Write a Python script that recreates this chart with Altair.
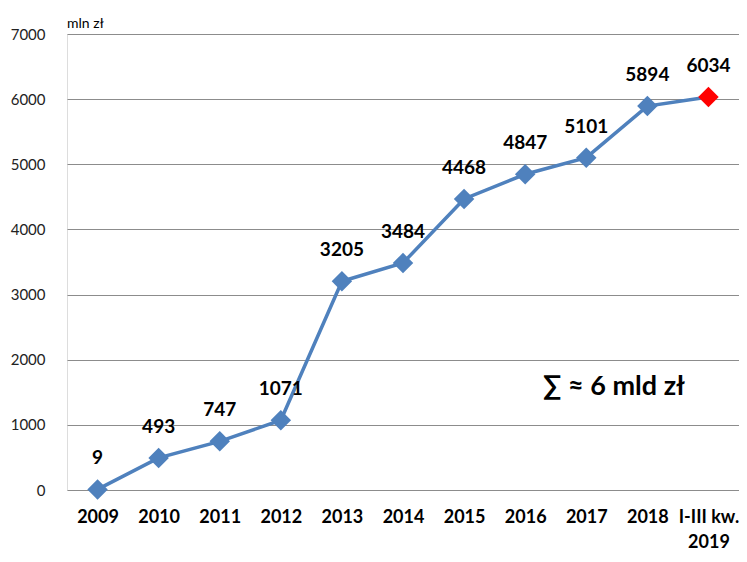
import altair as alt
import pandas as pd

categories = ["2009", "2010", "2011", "2012", "2013", "2014", "2015", "2016", "2017", "2018", "I-III kw. 2019"]
values = [9, 493, 747, 1071, 3205, 3484, 4468, 4847, 5101, 5894, 6034]
highlight = [False] * 10 + [True]

df = pd.DataFrame({"cat": categories, "val": values, "hl": highlight})

FONT = "Lato"
BLUE = "#4F81BD"

x = alt.X("cat:N", sort=categories, title=None,
          scale=alt.Scale(paddingInner=0, paddingOuter=0),
          axis=alt.Axis(labelAngle=0, labelFontSize=18, labelFontWeight="bold",
                        labelColor="#000000", labelFont=FONT, labelPadding=18,
                        ticks=False, domain=False, grid=False, labelLineHeight=25,
                        labelOverlap=False, labelBound=False,
                        labelExpr="datum.value == 'I-III kw. 2019' ? ['I-III kw.', '2019'] : datum.value"))
y = alt.Y("val:Q", title=None,
          scale=alt.Scale(domain=[0, 7000], nice=False),
          axis=alt.Axis(values=[0, 1000, 2000, 3000, 4000, 5000, 6000, 7000], format="d",
                        labelFontSize=15, labelColor="#222222", labelFont=FONT,
                        labelPadding=22, ticks=False, domain=False,
                        gridColor="#8c8c8c", gridWidth=1))

base = alt.Chart(df)
line = base.mark_line(color=BLUE, strokeWidth=3.5).encode(x=x, y=y)
points = base.mark_point(shape="diamond", filled=True, size=420, opacity=1).encode(
    x=x, y=y,
    color=alt.Color("hl:N", scale=alt.Scale(domain=[False, True], range=[BLUE, "#FF0000"]), legend=None))
labels = base.mark_text(dy=-31, fontSize=19, fontWeight="bold", font=FONT, color="#000000").encode(
    x=x, y=y, text="val:Q")

unit = alt.Chart(pd.DataFrame({"t": ["mln zł"]})).mark_text(
    align="left", baseline="bottom", fontSize=14, font=FONT, color="#000000", dy=-3
).encode(x=alt.value(0), y=alt.value(0), text="t:N")

ann = alt.Chart(pd.DataFrame({"t": ["∑ ≈ 6 mld zł"]})).mark_text(
    align="left", baseline="middle", fontSize=27, fontWeight="bold", font=FONT, color="#000000"
).encode(x=alt.value(476), y=alt.value(353), text="t:N")

chart = (line + points + labels + unit + ann).properties(
    width=672, height=456,
    padding={"left": 59, "top": 26, "right": 0, "bottom": 64},
    autosize=alt.AutoSizeParams(type="none"),
).configure_view(stroke=None).configure(background="#ffffff")

chart.save("out.html", embed_options={"renderer": "svg", "actions": False})
